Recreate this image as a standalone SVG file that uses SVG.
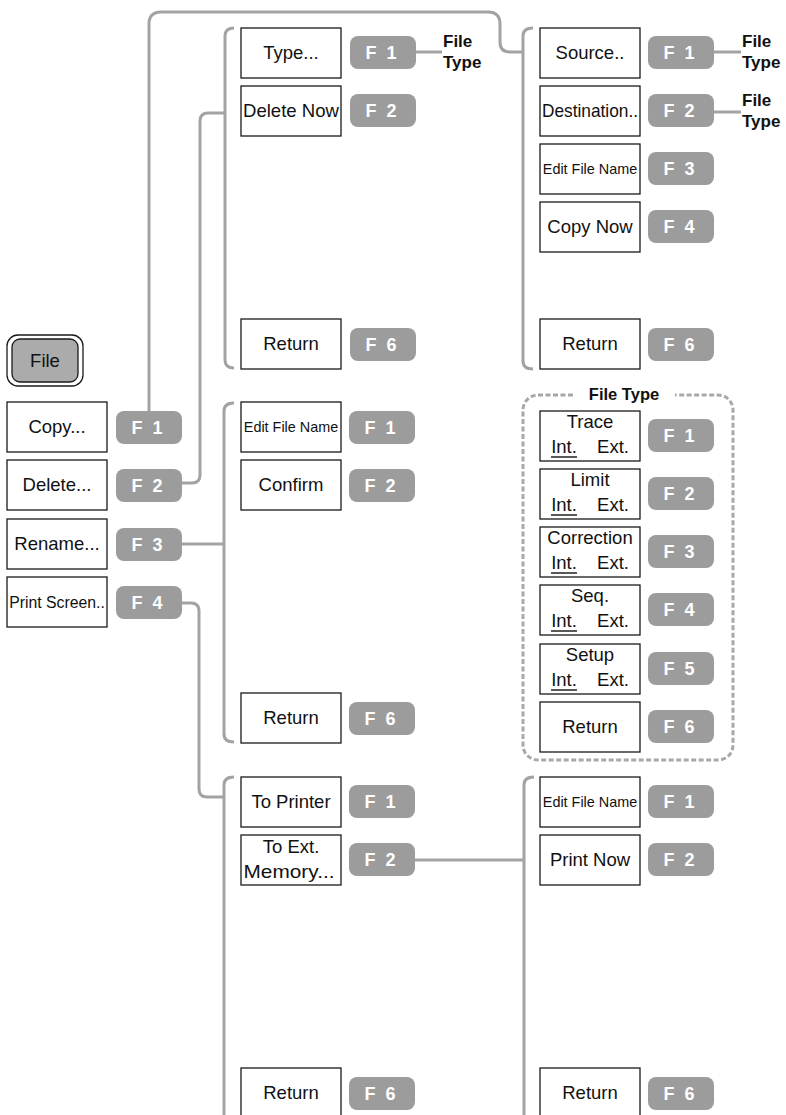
<svg xmlns="http://www.w3.org/2000/svg" width="786" height="1115" viewBox="0 0 786 1115">
  <style>
    .box { fill: #ffffff; stroke: #1a1a1a; stroke-width: 1.3; }
    .fk { fill: #9c9c9c; }
    .fkt { font-family: "Liberation Sans", Arial, sans-serif; font-weight: bold; font-size: 18px; fill: #ffffff; text-anchor: middle; word-spacing: 5px; }
    .t { font-family: "Liberation Sans", Arial, sans-serif; font-size: 18.5px; fill: #111111; text-anchor: middle; }
    .ts { font-family: "Liberation Sans", Arial, sans-serif; font-size: 14.4px; fill: #111111; text-anchor: middle; }
    .b { font-family: "Liberation Sans", Arial, sans-serif; font-weight: bold; font-size: 17px; fill: #111111; }
    .wire { fill: none; stroke: #a3a3a3; stroke-width: 3; stroke-linecap: butt; }
    .dash { fill: none; stroke: #a8a8a8; stroke-width: 3; stroke-dasharray: 5 2.5; }
    .ul { stroke: #111111; stroke-width: 1.4; }
  </style>
  <defs>
    <rect id="key" class="fk" width="66" height="33" rx="8" ry="8"/>
    <rect id="btn" class="box" width="100" height="50"/>
  </defs>

  <rect width="786" height="1115" fill="#ffffff"/>

  <!-- connectors -->
  <g id="connectors">
    <path class="wire" d="M149,411 V24 Q149,12 161,12 H488 Q500,12 500,24 V42 Q500,52 510,52 H523"/>
    <path class="wire" d="M533,28 Q523,28 523,36 V361 Q523,369 533,369"/>
    <path class="wire" d="M234,28 Q225,28 225,36 V360 Q225,368 234,368"/>
    <path class="wire" d="M182,483 H192 Q200,483 200,475 V121 Q200,113 208,113 H225"/>
    <path class="wire" d="M182,544 H224"/>
    <path class="wire" d="M234,403 Q224,403 224,411 V734 Q224,742 234,742"/>
    <path class="wire" d="M182,603 H191 Q199,603 199,611 V789 Q199,797 207,797 H224"/>
    <path class="wire" d="M234,777 Q224,777 224,785 V1115"/>
    <path class="wire" d="M415,860 H524"/>
    <path class="wire" d="M534,777 Q524,777 524,785 V1115"/>
    <path class="wire" d="M416,52 H442"/>
    <path class="wire" d="M714,52 H741"/>
    <path class="wire" d="M714,112 H741"/>
  </g>

  <!-- main menu -->
  <g id="file-key">
    <rect x="7" y="335" width="76" height="51" rx="11" ry="11" fill="#ffffff" stroke="#1a1a1a" stroke-width="1.3"/>
    <rect x="12" y="339" width="66" height="43" rx="8" ry="8" fill="#ababab" stroke="#1a1a1a" stroke-width="1.3"/>
    <text class="t" x="45" y="367">File</text>
  </g>
  <g id="copy">
    <use href="#btn" x="7" y="402"/><text class="t" x="57" y="433">Copy...</text>
    <use href="#key" x="116" y="411"/><text class="fkt" x="147" y="434">F 1</text>
  </g>
  <g id="delete">
    <use href="#btn" x="7" y="460"/><text class="t" x="57" y="491">Delete...</text>
    <use href="#key" x="116" y="469"/><text class="fkt" x="147" y="492">F 2</text>
  </g>
  <g id="rename">
    <use href="#btn" x="7" y="519"/><text class="t" x="57" y="550">Rename...</text>
    <use href="#key" x="116" y="528"/><text class="fkt" x="147" y="551">F 3</text>
  </g>
  <g id="print-screen">
    <use href="#btn" x="7" y="577"/><text class="t" x="57" y="608" style="font-size:15.8px">Print Screen..</text>
    <use href="#key" x="116" y="586"/><text class="fkt" x="147" y="609">F 4</text>
  </g>

  <!-- delete submenu -->
  <g id="type">
    <use href="#btn" x="241" y="28"/><text class="t" x="291" y="59">Type...</text>
    <use href="#key" x="350" y="36"/><text class="fkt" x="381" y="59">F 1</text>
    <text class="b" x="443" y="47">File</text><text class="b" x="443" y="68">Type</text>
  </g>
  <g id="delete-now">
    <use href="#btn" x="241" y="86"/><text class="t" x="291" y="117" textLength="96" lengthAdjust="spacingAndGlyphs">Delete Now</text>
    <use href="#key" x="350" y="94"/><text class="fkt" x="381" y="117">F 2</text>
  </g>
  <g id="delete-return">
    <use href="#btn" x="241" y="319"/><text class="t" x="291" y="350">Return</text>
    <use href="#key" x="350" y="328"/><text class="fkt" x="381" y="351">F 6</text>
  </g>

  <!-- copy submenu -->
  <g id="source">
    <use href="#btn" x="540" y="28"/><text class="t" x="590" y="59">Source..</text>
    <use href="#key" x="648" y="36"/><text class="fkt" x="679" y="59">F 1</text>
    <text class="b" x="742" y="47">File</text><text class="b" x="742" y="68">Type</text>
  </g>
  <g id="destination">
    <use href="#btn" x="540" y="86"/><text class="t" x="590" y="117" textLength="96" lengthAdjust="spacingAndGlyphs">Destination..</text>
    <use href="#key" x="648" y="94"/><text class="fkt" x="679" y="117">F 2</text>
    <text class="b" x="742" y="106">File</text><text class="b" x="742" y="127">Type</text>
  </g>
  <g id="copy-edit-name">
    <use href="#btn" x="540" y="144"/><text class="ts" x="590" y="174">Edit File Name</text>
    <use href="#key" x="648" y="152"/><text class="fkt" x="679" y="175">F 3</text>
  </g>
  <g id="copy-now">
    <use href="#btn" x="540" y="202"/><text class="t" x="590" y="233">Copy Now</text>
    <use href="#key" x="648" y="210"/><text class="fkt" x="679" y="233">F 4</text>
  </g>
  <g id="copy-return">
    <use href="#btn" x="540" y="319"/><text class="t" x="590" y="350">Return</text>
    <use href="#key" x="648" y="328"/><text class="fkt" x="679" y="351">F 6</text>
  </g>

  <!-- rename submenu -->
  <g id="rename-edit-name">
    <use href="#btn" x="241" y="402"/><text class="ts" x="291" y="432">Edit File Name</text>
    <use href="#key" x="349" y="411"/><text class="fkt" x="380" y="434">F 1</text>
  </g>
  <g id="confirm">
    <use href="#btn" x="241" y="460"/><text class="t" x="291" y="491">Confirm</text>
    <use href="#key" x="349" y="469"/><text class="fkt" x="380" y="492">F 2</text>
  </g>
  <g id="rename-return">
    <use href="#btn" x="241" y="693"/><text class="t" x="291" y="724">Return</text>
    <use href="#key" x="349" y="702"/><text class="fkt" x="380" y="725">F 6</text>
  </g>

  <!-- file type menu -->
  <g id="file-type">
    <path class="dash" d="M573,395 H538 A15,15 0 0 0 523,410 V745 A15,15 0 0 0 538,760 H718 A15,15 0 0 0 733,745 V410 A15,15 0 0 0 718,395 H675"/>
    <text class="b" x="624" y="400" text-anchor="middle" style="font-size:16.5px">File Type</text>
  </g>
  <g id="trace">
    <use href="#btn" x="540" y="411"/>
    <text class="t" x="590" y="428">Trace</text>
    <text class="t" x="564" y="453">Int.</text><text class="t" x="613" y="453">Ext.</text>
    <line class="ul" x1="551" y1="457" x2="577" y2="457"/>
    <use href="#key" x="648" y="419"/><text class="fkt" x="679" y="442">F 1</text>
  </g>
  <g id="limit">
    <use href="#btn" x="540" y="469"/>
    <text class="t" x="590" y="486">Limit</text>
    <text class="t" x="564" y="511">Int.</text><text class="t" x="613" y="511">Ext.</text>
    <line class="ul" x1="551" y1="515" x2="577" y2="515"/>
    <use href="#key" x="648" y="477"/><text class="fkt" x="679" y="500">F 2</text>
  </g>
  <g id="correction">
    <use href="#btn" x="540" y="527"/>
    <text class="t" x="590" y="544">Correction</text>
    <text class="t" x="564" y="569">Int.</text><text class="t" x="613" y="569">Ext.</text>
    <line class="ul" x1="551" y1="573" x2="577" y2="573"/>
    <use href="#key" x="648" y="535"/><text class="fkt" x="679" y="558">F 3</text>
  </g>
  <g id="seq">
    <use href="#btn" x="540" y="585"/>
    <text class="t" x="590" y="602">Seq.</text>
    <text class="t" x="564" y="627">Int.</text><text class="t" x="613" y="627">Ext.</text>
    <line class="ul" x1="551" y1="631" x2="577" y2="631"/>
    <use href="#key" x="648" y="593"/><text class="fkt" x="679" y="616">F 4</text>
  </g>
  <g id="setup">
    <use href="#btn" x="540" y="644"/>
    <text class="t" x="590" y="661">Setup</text>
    <text class="t" x="564" y="686">Int.</text><text class="t" x="613" y="686">Ext.</text>
    <line class="ul" x1="551" y1="690" x2="577" y2="690"/>
    <use href="#key" x="648" y="652"/><text class="fkt" x="679" y="675">F 5</text>
  </g>
  <g id="file-type-return">
    <use href="#btn" x="540" y="702"/><text class="t" x="590" y="733">Return</text>
    <use href="#key" x="648" y="710"/><text class="fkt" x="679" y="733">F 6</text>
  </g>

  <!-- print screen submenu -->
  <g id="to-printer">
    <use href="#btn" x="241" y="777"/><text class="t" x="291" y="808">To Printer</text>
    <use href="#key" x="349" y="785"/><text class="fkt" x="380" y="808">F 1</text>
  </g>
  <g id="to-ext-memory">
    <use href="#btn" x="241" y="835"/>
    <text class="t" x="291" y="853">To Ext.</text>
    <text class="t" x="289" y="878" textLength="91" lengthAdjust="spacingAndGlyphs">Memory...</text>
    <use href="#key" x="349" y="843"/><text class="fkt" x="380" y="866">F 2</text>
  </g>
  <g id="printer-return">
    <use href="#btn" x="241" y="1068"/><text class="t" x="291" y="1099">Return</text>
    <use href="#key" x="349" y="1077"/><text class="fkt" x="380" y="1100">F 6</text>
  </g>

  <!-- ext. memory submenu -->
  <g id="print-edit-name">
    <use href="#btn" x="540" y="777"/><text class="ts" x="590" y="807">Edit File Name</text>
    <use href="#key" x="648" y="785"/><text class="fkt" x="679" y="808">F 1</text>
  </g>
  <g id="print-now">
    <use href="#btn" x="540" y="835"/><text class="t" x="590" y="866">Print Now</text>
    <use href="#key" x="648" y="843"/><text class="fkt" x="679" y="866">F 2</text>
  </g>
  <g id="print-return">
    <use href="#btn" x="540" y="1068"/><text class="t" x="590" y="1099">Return</text>
    <use href="#key" x="648" y="1077"/><text class="fkt" x="679" y="1100">F 6</text>
  </g>
</svg>
